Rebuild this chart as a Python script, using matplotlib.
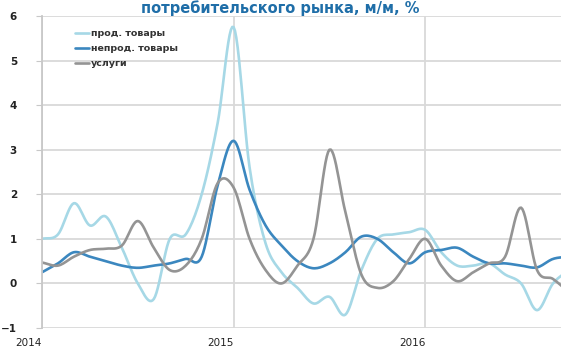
import numpy as np
import matplotlib.pyplot as plt

# monthly changes, Jan 2014 onward, % m/m
months = np.arange(34)
food = [1.0, 1.1, 1.8, 1.3, 1.5, 0.8, 0.0, -0.35, 1.0, 1.1, 2.0, 3.6,
        5.75, 2.6, 0.9, 0.25, -0.1, -0.45, -0.3, -0.7, 0.3, 1.0, 1.1, 1.15,
        1.2, 0.7, 0.4, 0.4, 0.45, 0.2, 0.0, -0.6, 0.0, 0.3]
nonfood = [0.25, 0.45, 0.7, 0.6, 0.5, 0.4, 0.35, 0.4, 0.45, 0.55, 0.6, 2.2,
           3.2, 2.1, 1.3, 0.85, 0.5, 0.34, 0.45, 0.7, 1.05, 1.0, 0.7, 0.45,
           0.7, 0.75, 0.8, 0.6, 0.45, 0.45, 0.4, 0.36, 0.55, 0.6]
services = [0.47, 0.4, 0.6, 0.75, 0.78, 0.85, 1.4, 0.8, 0.3, 0.4, 1.0, 2.25,
            2.15, 1.0, 0.3, 0.0, 0.4, 1.0, 3.0, 1.6, 0.2, -0.1, 0.05, 0.55,
            1.0, 0.4, 0.05, 0.25, 0.45, 0.6, 1.7, 0.3, 0.1, -0.2]
labels = ["прод. товары", "непрод. товары", "услуги"]
colors = ["#a6d8e6", "#3b87bf", "#949494"]
year_ticks = [2014, 2015, 2016]


def smooth(x, y, k=12):
    # Catmull-Rom curve through the points, like a smoothed line chart
    x = np.asarray(x, float)
    y = np.asarray(y, float)
    px = np.concatenate([[2 * x[0] - x[1]], x, [2 * x[-1] - x[-2]]])
    py = np.concatenate([[2 * y[0] - y[1]], y, [2 * y[-1] - y[-2]]])
    t = np.linspace(0, 1, k, endpoint=False)
    xs, ys = [], []
    for i in range(1, len(px) - 2):
        for p, out in ((px, xs), (py, ys)):
            p0, p1, p2, p3 = p[i - 1], p[i], p[i + 1], p[i + 2]
            out.extend(0.5 * (2 * p1 + (-p0 + p2) * t
                              + (2 * p0 - 5 * p1 + 4 * p2 - p3) * t ** 2
                              + (-p0 + 3 * p1 - 3 * p2 + p3) * t ** 3))
    xs.append(x[-1])
    ys.append(y[-1])
    return np.array(xs), np.array(ys)


fig = plt.figure(figsize=(5.61, 3.49), dpi=100)
ax = fig.add_axes([42 / 561, 21 / 349, 519 / 561, 312 / 349])

xdates = 2014 + months / 12
for vals, lab, col in zip([food, nonfood, services], labels, colors):
    sx, sy = smooth(xdates, vals)
    ax.plot(sx, sy, color=col, lw=1.9, label=lab, solid_capstyle="round")

ax.set_xlim(2014, 2014 + 32.5 / 12)
ax.set_ylim(-1, 6)
ax.set_yticks(range(-1, 7))
ax.set_xticks(year_ticks)
ax.set_xticklabels([str(y) for y in year_ticks], ha="right")
ax.grid(True, color="#d9d9d9", lw=1.3)
ax.set_axisbelow(True)
for side in ["top", "right", "bottom"]:
    ax.spines[side].set_visible(False)
ax.spines["left"].set_color("#c8c8c8")
ax.spines["left"].set_linewidth(1.3)
ax.tick_params(axis="y", length=4, color="#c8c8c8", labelsize=7.5,
               labelcolor="#222222", pad=14)
ax.tick_params(axis="x", length=0, labelsize=7.5, labelcolor="#222222", pad=7)
for t in ax.get_yticklabels():
    t.set_fontweight("bold")

leg = ax.legend(loc="upper left", bbox_to_anchor=(0.064, 0.958),
                frameon=False, borderpad=0, borderaxespad=0,
                prop={"size": 6.8, "weight": "bold"}, handlelength=1.5,
                handletextpad=0.15, labelspacing=0.62)
for txt in leg.get_texts():
    txt.set_color("#333333")

fig.text(0.5, 0.999, "потребительского рынка, м/м, %", ha="center",
         va="top", fontsize=10.5, fontweight="bold", color="#1f6ea8")

fig.savefig("out.png", dpi=100)
